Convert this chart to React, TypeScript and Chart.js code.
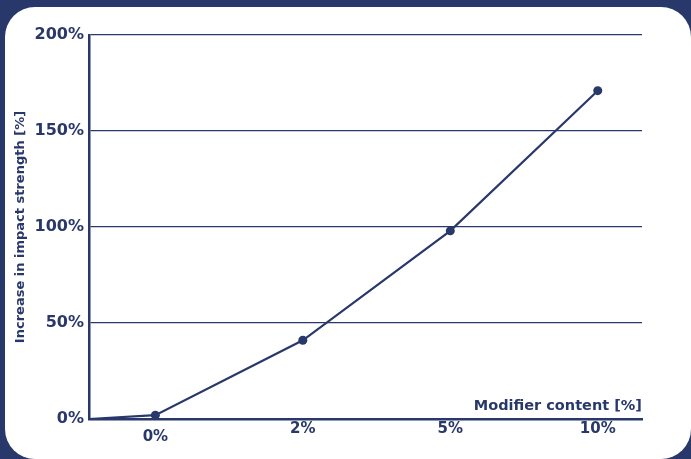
import React, { useEffect, useRef } from 'react';
import { Chart, registerables } from 'chart.js';

Chart.register(...registerables);

// ---- data ----
const CATEGORIES = ['0%', '2%', '5%', '10%'];
const IMPACT_INCREASE = [2, 41, 98, 171];
const ORIGIN_VALUE = 0;
const Y_TICKS = [0, 50, 100, 150, 200];
const X_TITLE = 'Modifier content [%]';
const Y_TITLE = 'Increase in impact strength [%]';

// ---- style ----
const NAVY = '#29386b';
const FONT = '"DejaVu Sans", sans-serif';
const X_MIN = -0.45;
const X_MAX = 3.3;

export default function App() {
  const ref = useRef<HTMLCanvasElement | null>(null);

  useEffect(() => {
    if (!ref.current) return;
    const points = [
      { x: X_MIN, y: ORIGIN_VALUE },
      ...CATEGORIES.map((_, i) => ({ x: i, y: IMPACT_INCREASE[i] })),
    ];
    const chart = new Chart(ref.current, {
      type: 'line',
      data: {
        datasets: [
          {
            data: points,
            borderColor: NAVY,
            backgroundColor: NAVY,
            borderWidth: 2.2,
            pointRadius: (ctx: any) => (ctx.dataIndex === 0 ? 0 : 4.5),
            pointHoverRadius: (ctx: any) => (ctx.dataIndex === 0 ? 0 : 4.5),
            pointBorderWidth: 0,
            tension: 0,
            clip: false as any,
          },
        ],
      },
      options: {
        responsive: false,
        animation: false,
        devicePixelRatio: 1,
        events: [],
        layout: { padding: { left: 0, top: 35, right: 49, bottom: 0 } },
        plugins: { legend: { display: false }, tooltip: { enabled: false } },
        scales: {
          x: {
            type: 'linear',
            min: X_MIN,
            max: X_MAX,
            afterBuildTicks: (s: any) => {
              s.ticks = CATEGORIES.map((_, i) => ({ value: i }));
            },
            afterFit: (s: any) => {
              s.height = 40;
            },
            grid: { display: false, drawTicks: false },
            border: { display: true, color: NAVY, width: 2.5 },
            ticks: {
              padding: 6,
              color: NAVY,
              font: { family: FONT, weight: 'bold', size: 15, lineHeight: 0.55 },
              callback: (_v: any, i: number) => (i === 0 ? ['', CATEGORIES[i]] : CATEGORIES[i]),
            },
            title: {
              display: true,
              text: X_TITLE,
              align: 'end',
              color: NAVY,
              font: { family: FONT, weight: 'bold', size: 14.5 },
              padding: { top: 0, bottom: 44.3 },
            },
          },
          y: {
            min: 0,
            max: 200,
            afterBuildTicks: (s: any) => {
              s.ticks = Y_TICKS.map((v) => ({ value: v }));
            },
            afterFit: (s: any) => {
              s.width = 89;
            },
            grid: {
              color: NAVY,
              lineWidth: (ctx: any) => (ctx.tick && ctx.tick.value === 0 ? 0 : 1.2),
              drawTicks: false,
            },
            border: { display: true, color: NAVY, width: 2.5 },
            ticks: {
              padding: 5,
              color: NAVY,
              font: { family: FONT, weight: 'bold', size: 16 },
              callback: (v: any) => v + '%',
            },
            title: {
              display: true,
              text: Y_TITLE,
              color: NAVY,
              font: { family: FONT, weight: 'bold', size: 13 },
              padding: { top: 13, bottom: 0 },
            },
          },
        },
      } as any,
    });
    return () => chart.destroy();
  }, []);

  return (
    <div
      style={{
        position: 'fixed',
        left: 0,
        top: 0,
        width: 691,
        height: 459,
        background: NAVY,
        overflow: 'hidden',
      }}
    >
      <div
        style={{
          position: 'absolute',
          left: 5,
          top: 7,
          width: 686,
          height: 452,
          background: '#ffffff',
          borderRadius: 30,
        }}
      />
      <canvas
        ref={ref}
        width={691}
        height={459}
        style={{ position: 'absolute', left: 0, top: 0, width: 691, height: 459 }}
      />
    </div>
  );
}
